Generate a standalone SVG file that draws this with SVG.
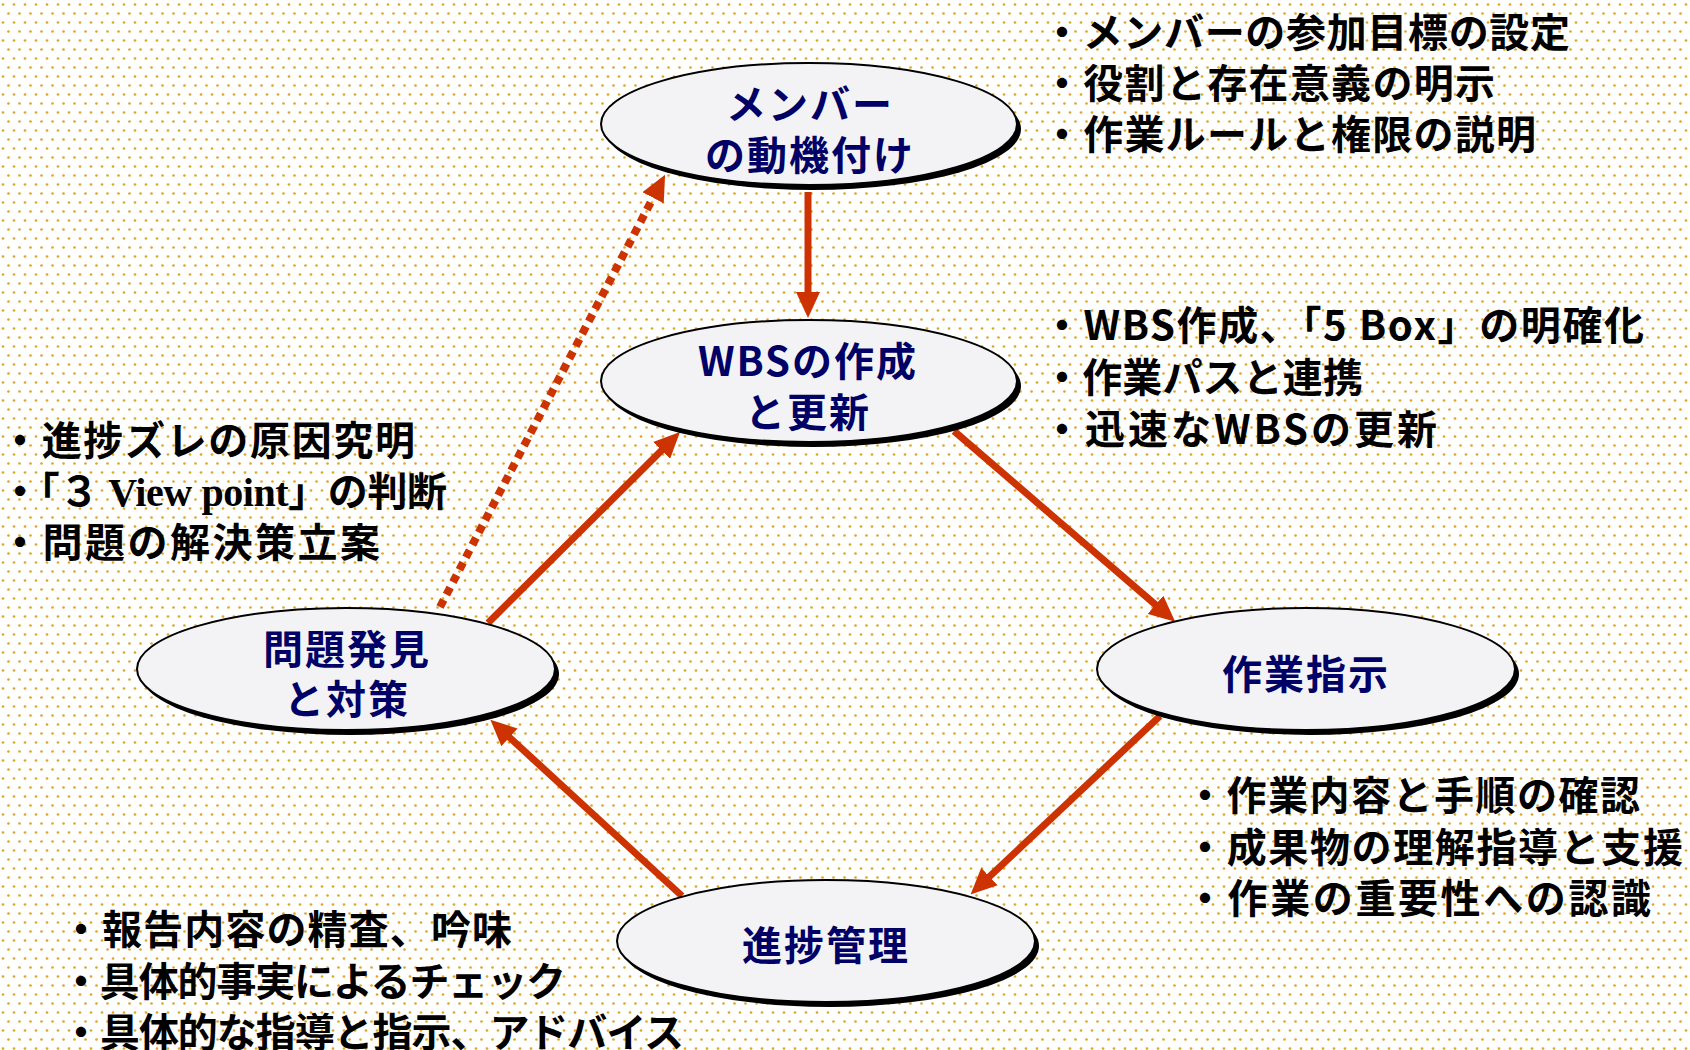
<svg xmlns="http://www.w3.org/2000/svg" width="1690" height="1050" viewBox="0 0 1690 1050">
<defs>
<pattern id="dots" width="11" height="18" patternUnits="userSpaceOnUse">
<rect width="11" height="18" fill="#ffffff"/>
<circle cx="3" cy="4.5" r="1.35" fill="#e0a52a"/>
<circle cx="8.5" cy="13.5" r="1.35" fill="#e0a52a"/>
</pattern>
<marker id="ah" viewBox="0 0 26 24" refX="2" refY="12" markerWidth="26" markerHeight="24" markerUnits="userSpaceOnUse" orient="auto">
<path d="M0,0 L26,12 L0,24 z" fill="#cc3300"/>
</marker>
<style>
.sh{fill:#000000}
.el{fill:#f3f3f5;stroke:#000000;stroke-width:2}
.nt{font-family:"Noto Sans CJK JP","Noto Sans",sans-serif;font-weight:bold;font-size:40px;fill:#000066;text-anchor:middle;letter-spacing:2px}
.bt{font-family:"Noto Sans CJK JP","Noto Sans",sans-serif;font-weight:bold;font-size:40px;fill:#000000}
.ser{font-family:"Liberation Serif","Noto Sans CJK JP",serif}
.ar{stroke:#cc3300;stroke-width:7;fill:none;marker-end:url(#ah)}
.dt{stroke-width:8;stroke-dasharray:8 6}
</style>
</defs>
<rect width="1690" height="1050" fill="url(#dots)"/>

<g id="connectors">
<line class="ar" x1="808" y1="192" x2="808" y2="294"/>
<line class="ar" x1="954" y1="431" x2="1157" y2="606"/>
<line class="ar" x1="1160" y1="716" x2="988" y2="878"/>
<line class="ar" x1="682" y1="896" x2="508" y2="736"/>
<line class="ar" x1="488" y1="623" x2="663" y2="449"/>
<line class="ar dt" x1="440" y1="607" x2="654" y2="196"/>
</g>

<g id="node-motivation">
<ellipse class="sh" cx="813" cy="129" rx="208" ry="61"/>
<ellipse class="el" cx="809" cy="124" rx="208" ry="61"/>
<text class="nt"><tspan x="810" y="119">メンバー</tspan><tspan x="810" y="170">の動機付け</tspan></text>
</g>

<g id="node-wbs">
<ellipse class="sh" cx="813" cy="386" rx="208" ry="61"/>
<ellipse class="el" cx="809" cy="381" rx="208" ry="61"/>
<text class="nt"><tspan x="808" y="376">WBSの作成</tspan><tspan x="808" y="427">と更新</tspan></text>
</g>

<g id="node-problem">
<ellipse class="sh" cx="350" cy="674" rx="209" ry="61"/>
<ellipse class="el" cx="346" cy="669" rx="209" ry="61"/>
<text class="nt"><tspan x="347" y="664">問題発見</tspan><tspan x="347" y="714">と対策</tspan></text>
</g>

<g id="node-instruction">
<ellipse class="sh" cx="1310" cy="674" rx="209" ry="61"/>
<ellipse class="el" cx="1306" cy="669" rx="209" ry="61"/>
<text class="nt" x="1306" y="689">作業指示</text>
</g>

<g id="node-progress">
<ellipse class="sh" cx="830" cy="946" rx="209" ry="61"/>
<ellipse class="el" cx="826" cy="941" rx="209" ry="61"/>
<text class="nt" x="826" y="960">進捗管理</text>
</g>

<g id="notes-motivation">
<text class="bt"><tspan x="1042" y="47" textLength="528" lengthAdjust="spacing">・メンバーの参加目標の設定</tspan><tspan x="1042" y="98" textLength="453" lengthAdjust="spacing">・役割と存在意義の明示</tspan><tspan x="1042" y="149" textLength="494" lengthAdjust="spacing">・作業ルールと権限の説明</tspan></text>
</g>

<g id="notes-wbs">
<text class="bt"><tspan x="1042" y="340" textLength="602" lengthAdjust="spacing">・WBS作成、「5 Box」の明確化</tspan><tspan x="1042" y="392" textLength="321" lengthAdjust="spacing">・作業パスと連携</tspan><tspan x="1042" y="444" textLength="395" lengthAdjust="spacing">・迅速なWBSの更新</tspan></text>
</g>

<g id="notes-problem">
<text class="bt"><tspan x="0" y="455" textLength="415" lengthAdjust="spacing">・進捗ズレの原因究明</tspan><tspan x="0" y="506" textLength="447" lengthAdjust="spacing">・「３<tspan class="ser"> View point</tspan>」の判断</tspan><tspan x="0" y="557" textLength="380" lengthAdjust="spacing">・問題の解決策立案</tspan></text>
</g>

<g id="notes-instruction">
<text class="bt"><tspan x="1185" y="810" textLength="455" lengthAdjust="spacing">・作業内容と手順の確認</tspan><tspan x="1185" y="862" textLength="498" lengthAdjust="spacing">・成果物の理解指導と支援</tspan><tspan x="1185" y="913" textLength="466" lengthAdjust="spacing">・作業の重要性への認識</tspan></text>
</g>

<g id="notes-progress">
<text class="bt"><tspan x="61" y="944" textLength="451" lengthAdjust="spacing">・報告内容の精査、吟味</tspan><tspan x="61" y="996" textLength="505" lengthAdjust="spacing">・具体的事実によるチェック</tspan><tspan x="61" y="1047" textLength="623" lengthAdjust="spacing">・具体的な指導と指示、アドバイス</tspan></text>
</g>
</svg>
